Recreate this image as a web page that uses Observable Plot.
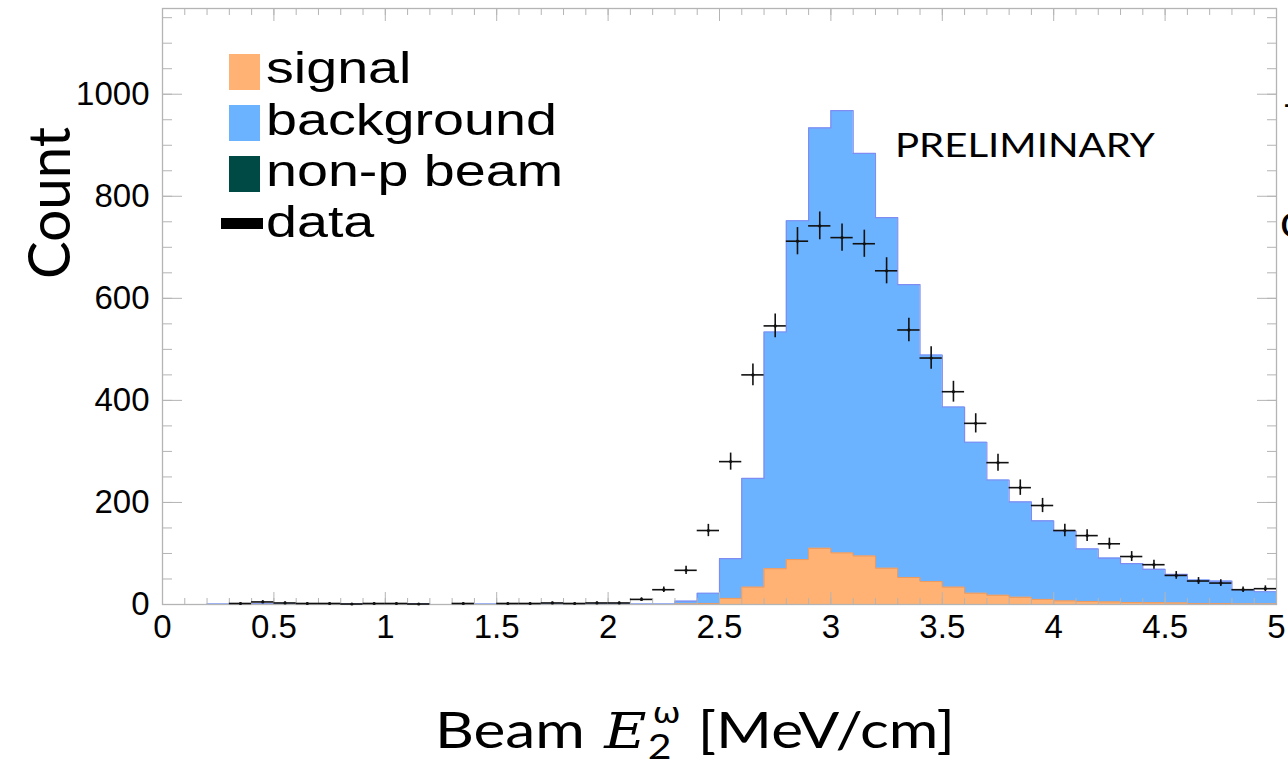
<!DOCTYPE html>
<html><head><meta charset="utf-8">
<script src="https://cdn.jsdelivr.net/npm/d3@7"></script>
<script src="https://cdn.jsdelivr.net/npm/@observablehq/plot@0.6"></script>
<style>
html,body{margin:0;padding:0;background:#fff;}
#wrap{position:relative;width:1288px;height:764px;overflow:hidden;background:#fff;}
#wrap svg{position:absolute;left:0;top:0;}
</style></head><body><div id="wrap"></div>
<script>
// ---- data (bins of width 0.1 MeV/cm from 0 to 5) ----
const binLow = [0.0,0.1,0.2,0.3,0.4,0.5,0.6,0.7,0.8,0.9,
                1.0,1.1,1.2,1.3,1.4,1.5,1.6,1.7,1.8,1.9,
                2.0,2.1,2.2,2.3,2.4,2.5,2.6,2.7,2.8,2.9,
                3.0,3.1,3.2,3.3,3.4,3.5,3.6,3.7,3.8,3.9,
                4.0,4.1,4.2,4.3,4.4,4.5,4.6,4.7,4.8,4.9];
const binWidth = 0.1;
const signal = [0,0,0,0,0,0,0,0,0,0,
                0,0,0,0,0,0,0,0,0,0,
                0,0,0,1,2,12,34,70,88,110,
                101,95,71,53,45,34,22,18,14,10,
                7,6,5,4,3.5,3,2,2,1,1];
const background = [0,0,1,1,1.5,1,1,1,1,1,
                    1,1,0,0.5,1,1,1,1,1,1,
                    1,1,1,5.5,20,78,213,464,664,824,
                    867,789,687,574,444,353,296,226,187,154,
                    137,103,86,76,65.5,56,46,44,28,24];
const dataCounts = [0,0,0,2,5,3,2,2,1,2,
                    2,1,0,2,0,2,2,3,2,3,
                    3,10,29,67,145,280,450,546,712,742,
                    719,707,654,538,483,417,355,278,229,194,
                    145,135,119,94,78,57,46,42,29,31];
const xTicks = [0,0.5,1,1.5,2,2.5,3,3.5,4,4.5,5];
const yTicks = [0,200,400,600,800,1000];
const legendLabels = ["signal","background","non-p beam","data"];

const colSignal = "#ffb273", colBackground = "#6cb3ff", colNonP = "#004a46";
const grey = "#b4b4b4";

const bins = binLow.map((x0,i)=>({x1:x0, x2:+(x0+binWidth).toFixed(2), s:signal[i], t:signal[i]+background[i], d:dataCounts[i]}));
const stepPts = key => [...bins.map(b=>({x:b.x1, y:b[key]})), {x:5, y:bins[bins.length-1][key]}];
const pts = bins.filter(b=>b.d>0).map(b=>({x1:b.x1, x2:b.x2, xc:(b.x1+b.x2)/2, y:b.d, e:Math.sqrt(b.d)}));
const xMinor = d3.range(0, 50.5, 1).map(v=>v/10);
const yMinor = d3.range(0, 1151, 50);
const plain = d => String(d);

const chart = Plot.plot({
  width: 1288, height: 764,
  marginLeft: 162, marginRight: 12, marginTop: 8, marginBottom: 160,
  style: {fontFamily: "'Liberation Sans', Arial, sans-serif", background: "white", color: "black"},
  x: {domain: [0,5], axis: null},
  y: {domain: [0,1168], axis: null},
  marks: [
    Plot.areaY(stepPts("t"), {x:"x", y1:0, y2:"y", curve:"step-after", fill: colBackground}),
    Plot.areaY(stepPts("s"), {x:"x", y1:0, y2:"y", curve:"step-after", fill: colSignal}),
    Plot.line(stepPts("t"), {x:"x", y:"y", curve:"step-after", stroke:"#7f8cf2", strokeWidth:1.2}),
    Plot.line(stepPts("s"), {x:"x", y:"y", curve:"step-after", stroke:"#ee9a5e", strokeWidth:1}),
    // tick marks (inward)
    Plot.axisX(xMinor, {anchor:"bottom", tickSize:-6, fill:"none", stroke:grey, label:null}),
    Plot.axisX(xTicks, {anchor:"bottom", tickSize:-12, fill:"none", stroke:grey, label:null}),
    Plot.axisX(xMinor, {anchor:"top", tickSize:-6, fill:"none", stroke:grey, label:null}),
    Plot.axisX(xTicks, {anchor:"top", tickSize:-12, fill:"none", stroke:grey, label:null}),
    Plot.axisY(yMinor, {anchor:"left", tickSize:-10, fill:"none", stroke:grey, label:null}),
    Plot.axisY(yTicks, {anchor:"left", tickSize:-20, fill:"none", stroke:grey, label:null}),
    Plot.axisY(yMinor, {anchor:"right", tickSize:-10, fill:"none", stroke:grey, label:null}),
    Plot.axisY(yTicks, {anchor:"right", tickSize:-20, fill:"none", stroke:grey, label:null}),
    // tick labels
    Plot.axisX(xTicks, {anchor:"bottom", tickSize:0, tickPadding:10, fontSize:33, label:null, stroke:"none", tickFormat: plain}),
    Plot.axisY(yTicks, {anchor:"left", tickSize:0, tickPadding:13, fontSize:33, label:null, stroke:"none", tickFormat: plain}),
    Plot.frame({stroke: grey, strokeWidth: 1.3}),
    // data with Poisson error bars
    Plot.ruleX(pts, {x:"xc", y1:d=>d.y-d.e, y2:d=>d.y+d.e, stroke:"#111", strokeWidth:1.6}),
    Plot.ruleY(pts, {y:"y", x1:"x1", x2:"x2", stroke:"#111", strokeWidth:1.6}),
    Plot.dot(pts, {x:"xc", y:"y", r:1.6, fill:"#111", stroke:"none"})
  ]
});
const wrap = document.getElementById("wrap");
wrap.appendChild(chart);

// ---- annotation overlay (legend, titles, watermark) ----
const ov = d3.select(wrap).append("svg").attr("width",1288).attr("height",764).style("white-space","pre");
function fitX(sel, x, width){
  const w = sel.node().getComputedTextLength();
  const k = width / w;
  sel.attr("transform", `translate(${x},0) scale(${k},1) translate(${-x},0)`);
  return k;
}
// legend
const legendColors = [colSignal, colBackground, colNonP];
const legTop = [54, 105, 156];
legendColors.forEach((c,i)=>{
  ov.append("rect").attr("x",229).attr("y",legTop[i]).attr("width",31).attr("height",36).attr("fill",c);
});
ov.append("rect").attr("x",221).attr("y",218).attr("width",42).attr("height",11).attr("fill","#000");
const legBase = [83, 135, 186, 237];
const legTexts = legendLabels.map((lab,i)=> ov.append("text").attr("x",266).attr("y",legBase[i])
  .attr("font-family","'Liberation Sans', Arial, sans-serif").attr("font-size",45).attr("fill","#000").text(lab));
const kScale = 291 / legTexts[1].node().getComputedTextLength();
legTexts.forEach(t=>t.attr("transform",`translate(266,0) scale(${kScale},1) translate(-266,0)`));

// PRELIMINARY
const prel = ov.append("text").attr("x",895).attr("y",157).attr("font-family","Lato, 'Open Sans', sans-serif")
  .attr("font-size",33).attr("fill","#000").text("PRELIMINARY");
fitX(prel, 895, 260);

// y title
const yt = ov.append("text").attr("font-family","Lato, 'Open Sans', sans-serif").attr("font-size",58)
  .attr("text-anchor","middle").attr("fill","#000").text("Count");
const ytw = yt.node().getComputedTextLength();
yt.attr("transform", `translate(70,203) rotate(-90) scale(${152/ytw},1)`);

// x title: Beam E_2^ω [MeV/cm]
const g = ov.append("g");
const base = 748, x0 = 435;
const t1 = g.append("text").attr("x",x0).attr("y",base).attr("font-family","Lato, sans-serif").attr("font-size",50).text("Beam");
let cx = x0 + t1.node().getComputedTextLength() + 16;
const tE = g.append("text").attr("x",cx).attr("y",base).attr("font-family","'DejaVu Serif', 'Liberation Serif', serif").attr("font-style","italic").attr("font-size",48).text("E");
cx += tE.node().getComputedTextLength() + 1;
const tSub = g.append("text").attr("x",cx).attr("y",base+11).attr("font-family","Lato, sans-serif").attr("font-size",34).text("2");
const tSup = g.append("text").attr("x",cx+4).attr("y",base-25).attr("font-family","'DejaVu Sans', sans-serif").attr("font-size",28).text("ω");
cx += Math.max(tSub.node().getComputedTextLength(), tSup.node().getComputedTextLength()+4) + 14;
const t3 = g.append("text").attr("x",cx).attr("y",base).attr("font-family","Lato, sans-serif").attr("font-size",50).text("[MeV/cm]");
cx += t3.node().getComputedTextLength();
const kx = 520 / (cx - x0);
g.attr("transform", `translate(${x0},0) scale(${kx},1) translate(${-x0},0)`);

// partial glyphs cut at right edge of the slide
ov.append("text").attr("x",1280).attr("y",237).attr("font-family","Lato, sans-serif").attr("font-size",46).text("c");
ov.append("text").attr("x",1283).attr("y",116).attr("font-family","Lato, sans-serif").attr("font-size",34).text("-");
</script></body></html>
